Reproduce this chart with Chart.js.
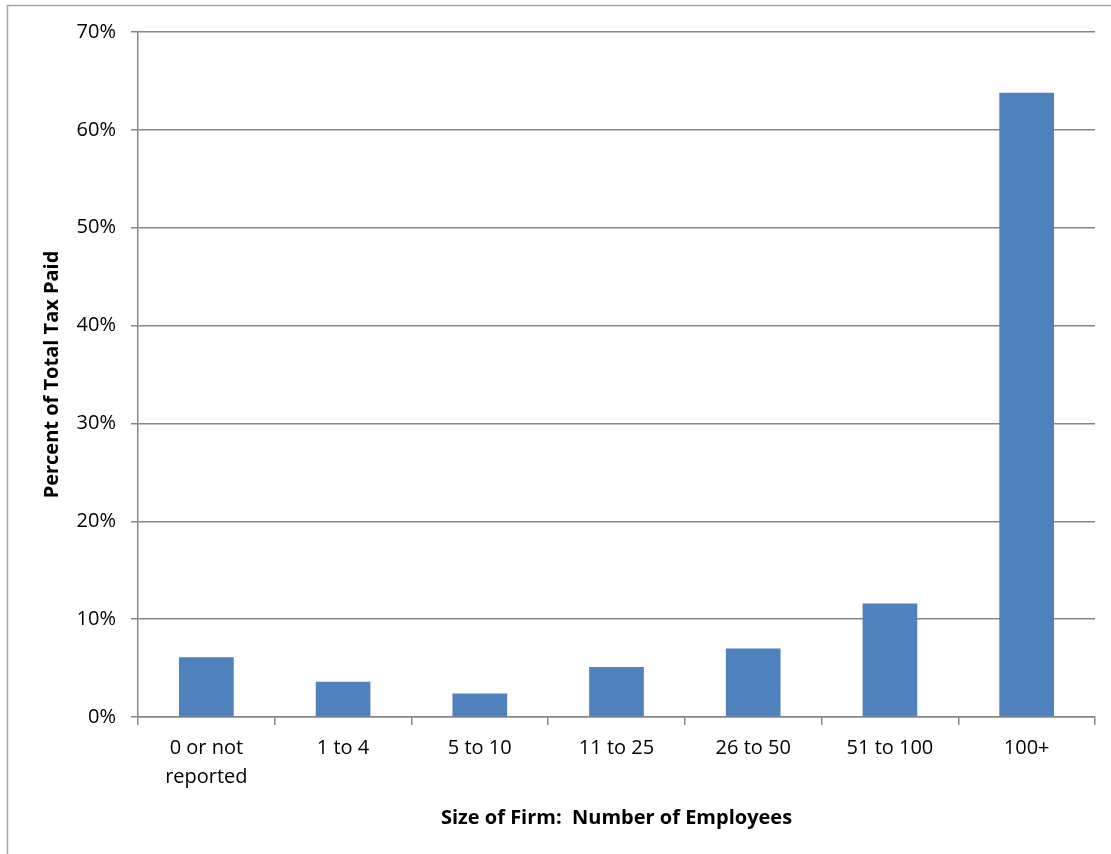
<!DOCTYPE html>
<html>
<head>
<meta charset="utf-8">
<script src="https://cdn.jsdelivr.net/npm/chart.js@4"></script>
<style>
  html, body { margin: 0; padding: 0; background: #fff; }
  #wrap { width: 1111px; height: 854px; position: relative; }
</style>
</head>
<body>
<div id="wrap"><canvas id="chart" width="1111" height="854"></canvas></div>
<script>
// Firm-size categories (multi-line labels where the text wraps)
const categories = [["0 or not", "reported"], "1 to 4", "5 to 10", "11 to 25", "26 to 50", "51 to 100", "100+"];
// Share of total tax paid, in percent
const taxShare = [6.1, 3.6, 2.4, 5.1, 7.0, 11.6, 63.8];
// Value axis ticks
const yTicks = [0, 10, 20, 30, 40, 50, 60, 70];

const xTitle = "Size of Firm:  Number of Employees";
const yTitle = "Percent of Total Tax Paid";

const FONT = "'Open Sans', 'Noto Sans', sans-serif";
const GRID = "#868686";

// Outer chart frame (top and left edges visible)
const framePlugin = {
  id: 'frame',
  beforeDraw(chart) {
    const c = chart.ctx;
    c.save();
    c.strokeStyle = "#a6a6a6";
    c.lineWidth = 1.5;
    c.beginPath();
    c.moveTo(7.5, 860);
    c.lineTo(7.5, 5.5);
    c.lineTo(1120, 5.5);
    c.stroke();
    c.restore();
  }
};

new Chart(document.getElementById('chart'), {
  type: 'bar',
  data: {
    labels: categories,
    datasets: [{
      data: taxShare,
      backgroundColor: '#4f81bd',
      borderWidth: 0,
      barPercentage: 0.4,
      categoryPercentage: 1.0
    }]
  },
  plugins: [framePlugin],
  options: {
    responsive: false,
    animation: false,
    devicePixelRatio: 1,
    layout: { padding: { top: 32, right: 16, left: 0, bottom: 0 } },
    plugins: {
      legend: { display: false },
      tooltip: { enabled: false }
    },
    scales: {
      x: {
        offset: true,
        grid: {
          offset: true,
          drawOnChartArea: false,
          drawTicks: true,
          tickLength: 8,
          color: GRID,
          lineWidth: 1.5
        },
        border: { color: GRID, width: 1.5 },
        ticks: {
          color: '#000',
          font: { family: FONT, size: 20, lineHeight: 1.45 },
          padding: 9,
          maxRotation: 0,
          autoSkip: false
        },
        title: {
          display: true,
          text: xTitle,
          color: '#000',
          font: { family: FONT, size: 20, weight: 'bold' },
          padding: { top: 0, bottom: 24 }
        },
        afterFit(scale) { scale.height = 854 - 717; }
      },
      y: {
        min: 0,
        max: 70,
        afterBuildTicks(scale) { scale.ticks = yTicks.map(v => ({ value: v })); },
        grid: {
          color: GRID,
          lineWidth: 1.5,
          tickLength: 7,
          drawTicks: true
        },
        border: { color: GRID, width: 1.5 },
        ticks: {
          color: '#000',
          font: { family: FONT, size: 20 },
          padding: 15,
          callback: v => v + '%'
        },
        title: {
          display: true,
          text: yTitle,
          color: '#000',
          font: { family: FONT, size: 20, weight: 'bold' },
          padding: { top: 40, bottom: 8 }
        },
        afterFit(scale) { scale.width = 138; }
      }
    }
  }
});
</script>
</body>
</html>
